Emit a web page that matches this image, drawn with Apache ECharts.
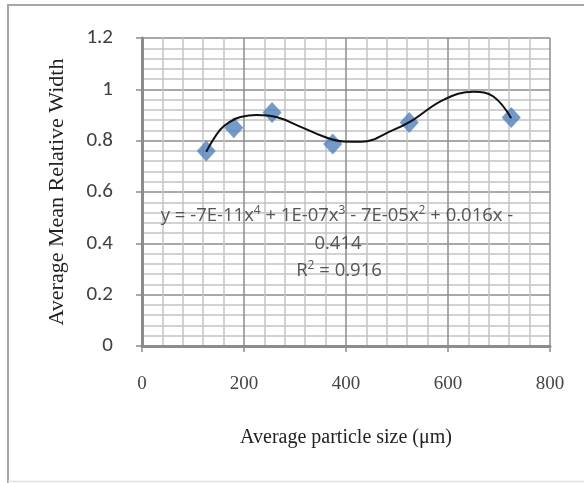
<!DOCTYPE html>
<html>
<head>
<meta charset="utf-8">
<script src="https://cdn.jsdelivr.net/npm/echarts@6/dist/echarts.min.js"></script>
<style>
html,body{margin:0;padding:0;background:#fff;}
#chart{width:584px;height:483px;}
</style>
</head>
<body>
<div id="chart"></div>
<script>
// Data
const particleSize = [126, 180, 255, 374, 524, 724];
const meanRelativeWidth = [0.76, 0.85, 0.91, 0.787, 0.871, 0.89];

// Points read along the drawn polynomial trendline
const trendX = [126, 153, 173, 193, 225, 265, 310, 356, 395, 430, 493, 526, 591, 650, 689, 724];
const trendY = [0.757, 0.842, 0.874, 0.892, 0.900, 0.891, 0.855, 0.816, 0.797, 0.796, 0.842, 0.874, 0.959, 0.991, 0.972, 0.887];

const equationLines = ['y = -7E-11x{sup|4} + 1E-07x{sup|3} - 7E-05x{sup|2} + 0.016x -', '0.414', 'R{sup|2} = 0.916'];

const xTitle = 'Average particle size (\u03bcm)';
const yTitle = 'Average Mean Relative Width';

const chart = echarts.init(document.getElementById('chart'), null, {renderer: 'canvas'});

const scatterData = particleSize.map((x, i) => [x, meanRelativeWidth[i]]);
const trendData = trendX.map((x, i) => [x, trendY[i]]);

const majorColor = '#8c8c8c';
const minorColor = '#c4c4c4';
const eqFont = '"Open Sans", sans-serif';

function eqText(txt, x, y) {
  return {
    type: 'text', silent: true, x: x, y: y, z: 10,
    style: {
      text: txt, fontFamily: eqFont, fontSize: 18.5, fill: '#555',
      align: 'center', verticalAlign: 'middle',
      rich: {sup: {fontFamily: eqFont, fontSize: 12, fill: '#555', verticalAlign: 'top', lineHeight: 22}}
    }
  };
}

chart.setOption({
  backgroundColor: '#ffffff',
  animation: false,
  grid: {left: 142, right: 34, top: 38, bottom: 137, containLabel: false, outerBoundsMode: 'none'},
  xAxis: {
    type: 'value', min: 0, max: 800, interval: 200,
    name: xTitle, nameLocation: 'middle', nameGap: 82,
    nameTextStyle: {fontFamily: '"Liberation Serif", serif', fontSize: 20, color: '#222'},
    axisLine: {show: true, lineStyle: {color: majorColor, width: 3}},
    axisTick: {show: true, length: 6, lineStyle: {color: majorColor, width: 1.5}},
    axisLabel: {margin: 29, fontFamily: '"Liberation Serif", serif', fontSize: 19, color: '#444'},
    splitLine: {show: true, lineStyle: {color: majorColor, width: 1.5}},
    minorTick: {show: false, splitNumber: 5},
    minorSplitLine: {show: true, lineStyle: {color: minorColor, width: 1.5}}
  },
  yAxis: {
    type: 'value', min: 0, max: 1.2, interval: 0.2,
    name: yTitle, nameLocation: 'middle', nameGap: 74,
    nameTextStyle: {fontFamily: '"Liberation Serif", serif', fontSize: 22, color: '#222'},
    axisLine: {show: true, lineStyle: {color: majorColor, width: 3}},
    axisTick: {show: true, length: 6, lineStyle: {color: majorColor, width: 1.5}},
    axisLabel: {margin: 29, fontFamily: 'Carlito, "Open Sans", sans-serif', fontSize: 21, color: '#404040'},
    splitLine: {show: true, lineStyle: {color: majorColor, width: 1.5}},
    minorTick: {show: false, splitNumber: 5},
    minorSplitLine: {show: true, lineStyle: {color: minorColor, width: 1.5}}
  },
  graphic: [
    {type: 'polyline', silent: true, shape: {points: [[8, 483], [8, 5], [584, 5]]}, style: {stroke: '#a6a6a6', lineWidth: 2, fill: null}},
    {type: 'line', silent: true, shape: {x1: 8, y1: 481.5, x2: 584, y2: 481.5}, style: {stroke: '#e0e0e0', lineWidth: 1.5}},
    eqText(equationLines[0], 337, 216),
    eqText(equationLines[1], 338, 244),
    eqText(equationLines[2], 339, 271)
  ],
  series: [
    {
      type: 'scatter', data: scatterData, symbol: 'diamond', symbolSize: [19, 21],
      itemStyle: {color: '#4f81bd'}, z: 3
    },
    {
      type: 'line', data: trendData, smooth: 0.4, showSymbol: false, symbol: 'none',
      lineStyle: {color: '#111', width: 2}, z: 4
    }
  ]
});
</script>
</body>
</html>
